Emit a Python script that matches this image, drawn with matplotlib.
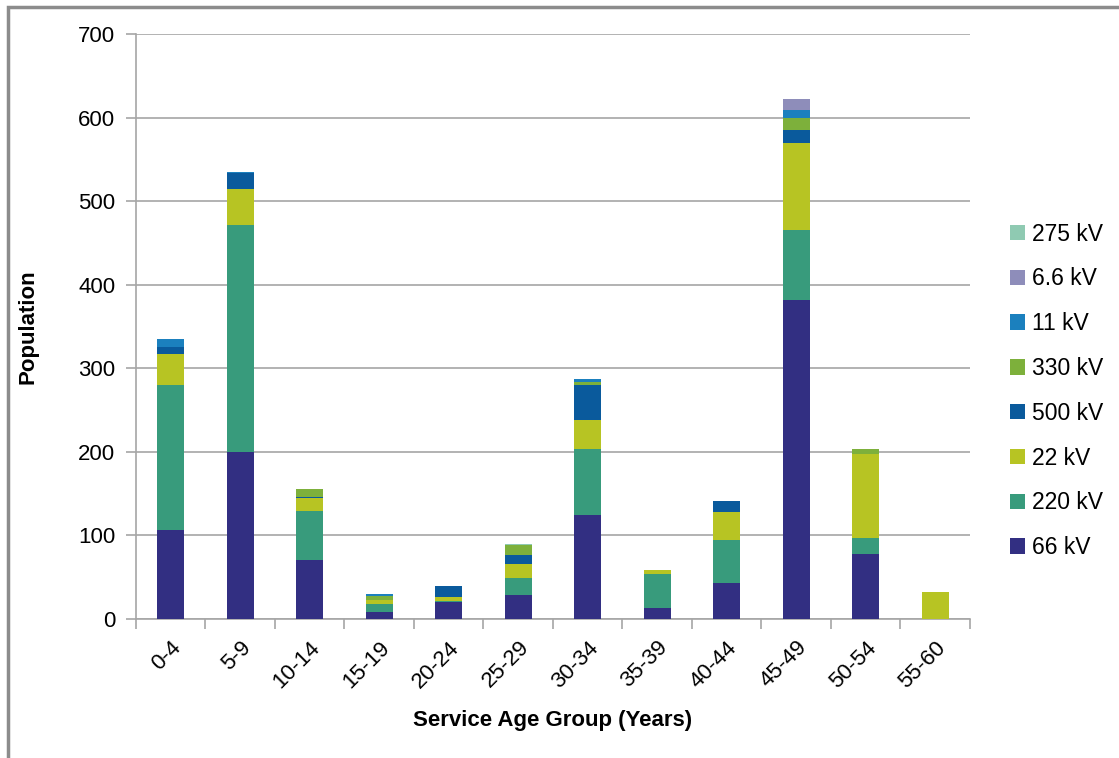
import numpy as np
import matplotlib.pyplot as plt
from matplotlib.patches import Rectangle

plt.rcParams['font.family'] = ['Liberation Sans', 'DejaVu Sans']

age_groups = ['0-4', '5-9', '10-14', '15-19', '20-24', '25-29',
              '30-34', '35-39', '40-44', '45-49', '50-54', '55-60']

# population per voltage class, stacked bottom to top in this order
kv66 = [107, 200, 70, 8, 20, 29, 124, 13, 43, 382, 78, 0]
kv220 = [173, 271, 59, 10, 2, 20, 80, 41, 51, 83, 19, 0]
kv22 = [37, 44, 16, 5, 4, 17, 34, 5, 34, 105, 100, 32]
kv500 = [9, 19, 1, 0, 13, 11, 42, 0, 13, 15, 0, 0]
kv330 = [0, 0, 10, 5, 0, 11, 3, 0, 0, 14, 7, 0]
kv11 = [9, 1, 0, 2, 1, 0, 4, 0, 0, 10, 0, 0]
kv6_6 = [0, 0, 0, 0, 0, 0, 0, 0, 0, 13, 0, 0]
kv275 = [0, 0, 0, 0, 0, 2, 0, 0, 0, 0, 0, 0]

series = [
    ('66 kV', kv66, '#322F82'),
    ('220 kV', kv220, '#389B7C'),
    ('22 kV', kv22, '#B7C423'),
    ('500 kV', kv500, '#0A5A9C'),
    ('330 kV', kv330, '#7DB03B'),
    ('11 kV', kv11, '#1B80BE'),
    ('6.6 kV', kv6_6, '#8E8DBA'),
    ('275 kV', kv275, '#8FCAB2'),
]

fig = plt.figure(figsize=(11.19, 7.58), dpi=100)
ax = fig.add_axes([0.1215, 0.1834, 0.7453, 0.7717])

# outer frame around the chart area
fig.patches.append(Rectangle((8 / 1119, -0.1), 1.2, 0.1 + (758 - 7) / 758,
                             transform=fig.transFigure, fill=False,
                             edgecolor='#8C8C8C', linewidth=2.5))

x = np.arange(len(age_groups))
bottom = np.zeros(len(age_groups))
handles = []
for name, vals, color in series:
    vals = np.array(vals, dtype=float)
    b = ax.bar(x, vals, width=0.39, bottom=bottom, color=color, label=name,
               edgecolor='none', zorder=3)
    handles.append(b)
    bottom += vals

ax.set_xlim(-0.5, len(age_groups) - 0.5)
ax.set_ylim(0, 700)
ax.set_yticks(range(0, 701, 100))
ax.yaxis.grid(True, color='#A6A6A6', linewidth=1.2, zorder=0)
ax.set_axisbelow(True)

# category ticks sit between bars
ax.set_xticks(x)
ax.set_xticklabels(age_groups, rotation=45, ha='right', rotation_mode='anchor',
                   fontsize=16)
ax.tick_params(axis='x', length=0, pad=13)
ax.set_xticks(np.arange(-0.5, len(age_groups)), minor=True)
ax.tick_params(axis='x', which='minor', length=7, color='#A6A6A6', width=1.2)
ax.tick_params(axis='y', labelsize=16, length=7, color='#A6A6A6', width=1.2, pad=8)

for side in ['top', 'right']:
    ax.spines[side].set_visible(False)
for side in ['left', 'bottom']:
    ax.spines[side].set_color('#A6A6A6')
    ax.spines[side].set_linewidth(1.2)

ax.set_xlabel('Service Age Group (Years)', fontsize=16, fontweight='bold', labelpad=13)
ax.set_ylabel('Population', fontsize=16, fontweight='bold', labelpad=28)

leg = ax.legend(handles[::-1], [s[0] for s in series][::-1],
                loc='center left', bbox_to_anchor=(1.034, 0.39), frameon=False,
                fontsize=16.5, handlelength=0.65, handleheight=0.65, borderpad=0,
                handletextpad=0.3, labelspacing=0.95)

plt.savefig('out.png', dpi=100)
